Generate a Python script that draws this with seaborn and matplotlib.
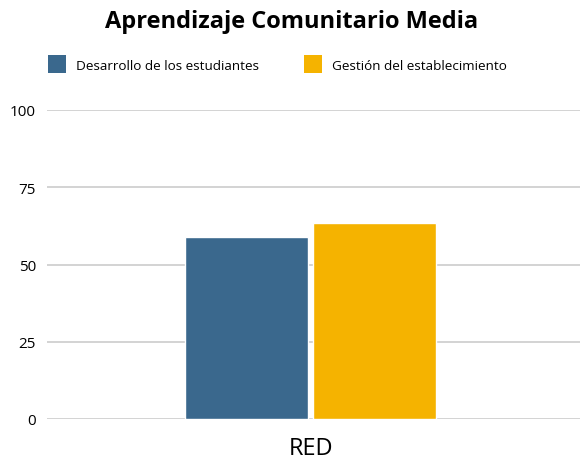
import numpy as np
import pandas as pd
import matplotlib.pyplot as plt
import seaborn as sns
from matplotlib.lines import Line2D

# values
categorias = ["RED"]
series = ["Desarrollo de los estudiantes", "Gestión del establecimiento"]
valores = [58.9, 63.4]
colores = ["#3a688d", "#f5b300"]
yticks = [0, 25, 50, 75, 100]

df = pd.DataFrame({
    "grupo": categorias * len(series),
    "serie": series,
    "valor": valores,
})

sns.set_style("white")
plt.rcParams['font.family'] = ['Open Sans', 'DejaVu Sans']
plt.rcParams['text.color'] = 'black'
plt.rcParams['xtick.color'] = 'black'
plt.rcParams['ytick.color'] = 'black'

fig = plt.figure(figsize=(5.84, 4.60), dpi=100)
ax = fig.add_axes([47/584, 1 - 420/460, 533/584, (420-111)/460])

sns.barplot(data=df, x="grupo", y="valor", hue="serie", palette=colores,
            width=0.48, gap=0.04, saturation=1, ax=ax, legend=False)

ax.set_ylim(0, 100)
ax.set_xlim(-0.495, 0.505)
ax.set_yticks(yticks)
ax.set_yticklabels([str(t) for t in yticks], fontsize=11)
ax.yaxis.grid(True, color="#c8c8c8", linewidth=1.1)
ax.set_axisbelow(True)
ax.tick_params(axis="both", length=0, pad=8)
ax.tick_params(axis="x", labelsize=17, pad=12)
ax.set_xlabel("")
ax.set_ylabel("")
for s in ax.spines.values():
    s.set_visible(False)

handles = [Line2D([], [], marker="s", linestyle="none", markersize=12.5,
                  markerfacecolor=c, markeredgewidth=0) for c in colores]
fig.legend(handles, series, loc="upper left", bbox_to_anchor=(37/584, 1 - 48/460),
           ncol=2, frameon=False, fontsize=9.7, handlelength=1.2,
           columnspacing=3.4, handletextpad=0.8)

fig.text(0.5, 1 - 22/460, "Aprendizaje Comunitario Media", ha="center", va="center",
         fontsize=17, fontweight="bold")

fig.savefig("out.png", dpi=100)
